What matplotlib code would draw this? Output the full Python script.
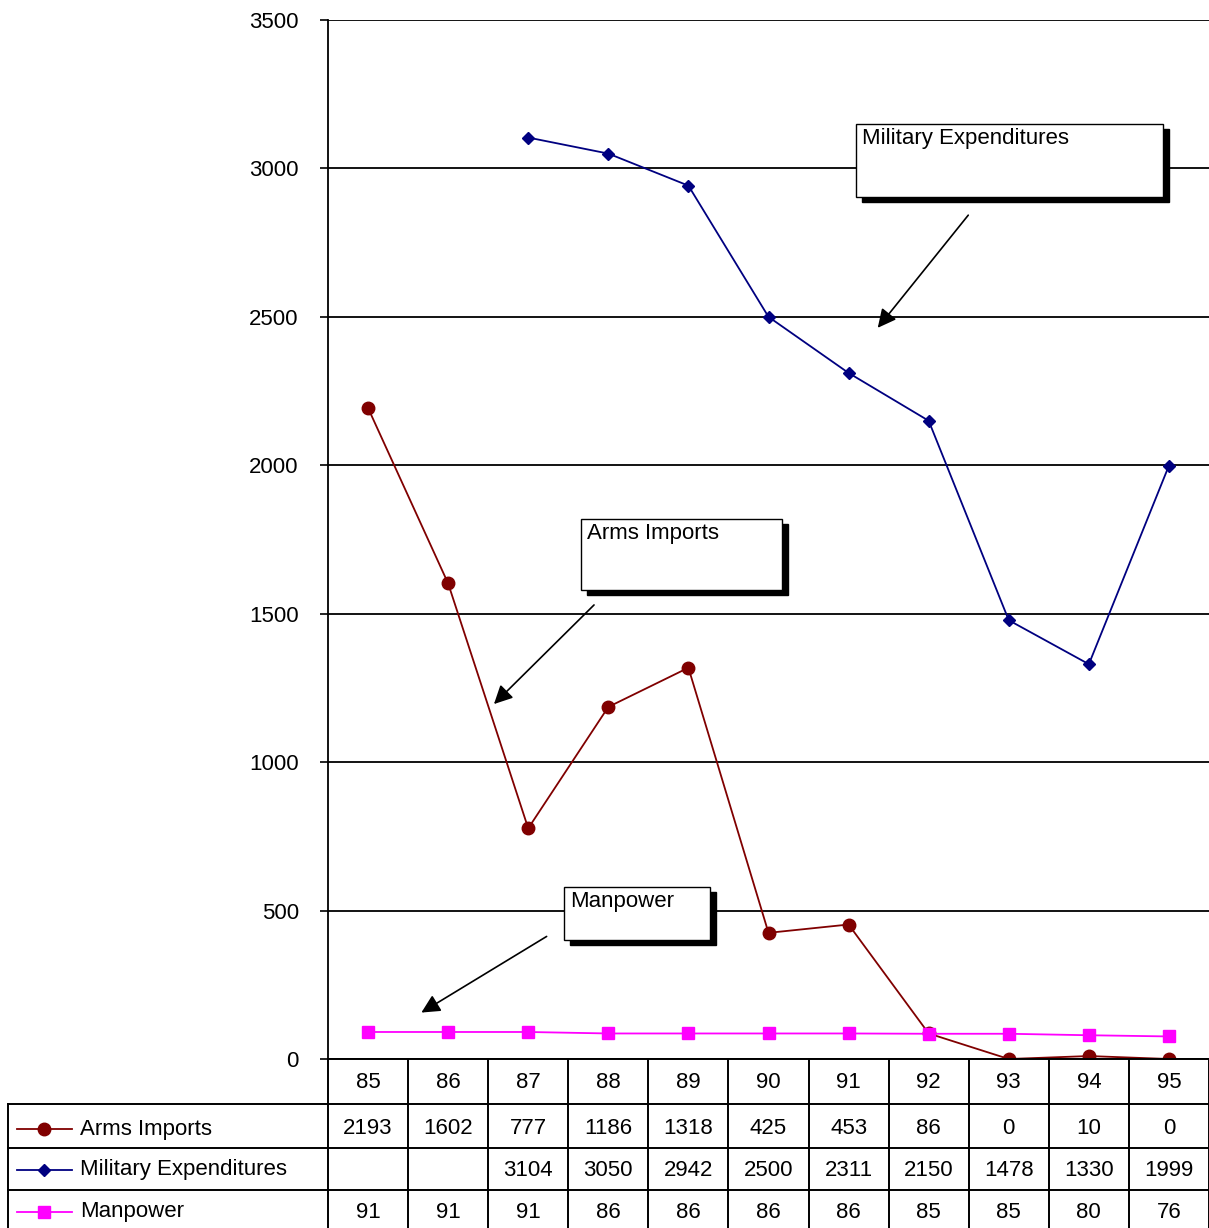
import matplotlib.pyplot as plt
import matplotlib.transforms as mtrans
from matplotlib.lines import Line2D
from matplotlib.patches import Rectangle
import numpy as np

plt.rcParams['font.family'] = ['Liberation Sans', 'DejaVu Sans']

years = ['85', '86', '87', '88', '89', '90', '91', '92', '93', '94', '95']
arms_imports = [2193, 1602, 777, 1186, 1318, 425, 453, 86, 0, 10, 0]
military_exp = [None, None, 3104, 3050, 2942, 2500, 2311, 2150, 1478, 1330, 1999]
manpower = [91, 91, 91, 86, 86, 86, 86, 85, 85, 80, 76]

series = [
    ('Arms Imports', arms_imports, '#800000', 'o', 9),
    ('Military Expenditures', military_exp, '#000080', 'D', 6.5),
    ('Manpower', manpower, '#FF00FF', 's', 8),
]

W, H = 1209, 1228
fig = plt.figure(figsize=(W / 100, H / 100), dpi=100)
FS = 16


def fx(x):
    return x / W


def fy(y):
    return 1 - y / H


ax = fig.add_axes([fx(328), fy(1059), fx(1209) - fx(328), fy(20) - fy(1059)])

x = np.arange(len(years))
for name, vals, col, mk, ms in series:
    v = np.array([np.nan if a is None else a for a in vals], dtype=float)
    ax.plot(x, v, color=col, lw=1.3, marker=mk, ms=ms, mfc=col, mec=col, zorder=3)

ax.set_xlim(-0.5, len(years) - 0.5)
ax.set_ylim(0, 3500)
ax.set_yticks(range(0, 3501, 500))
ax.yaxis.grid(True, color='black', lw=1.3)
ax.set_axisbelow(True)
ax.set_xticks([])
ax.tick_params(axis='y', length=6, width=1.2, pad=15, labelsize=FS)
for s in ['top', 'right', 'bottom']:
    ax.spines[s].set_visible(False)
ax.spines['left'].set_linewidth(1.3)

# data table below the plot
tr = mtrans.blended_transform_factory(ax.transData, fig.transFigure)
row_y = [1059, 1104, 1148, 1190, 1235]
lw = 1.4
for b in np.arange(len(years) + 1) - 0.5:
    fig.add_artist(Line2D([b, b], [fy(1059), fy(1235)], transform=tr, color='black', lw=lw))
fig.add_artist(Line2D([fx(328), fx(1209)], [fy(1059), fy(1059)], color='black', lw=lw))
for yy in row_y[1:]:
    fig.add_artist(Line2D([fx(8), fx(1209)], [fy(yy), fy(yy)], color='black', lw=lw))
fig.add_artist(Line2D([fx(8), fx(8)], [fy(1104), fy(1235)], color='black', lw=lw))

for i, yr in enumerate(years):
    fig.text(i, fy(1082), yr, transform=tr, ha='center', va='center', fontsize=FS)

row_c = [1129, 1170, 1212]
for r, (name, vals, col, mk, ms) in enumerate(series):
    yc = fy(row_c[r])
    fig.add_artist(Line2D([fx(17), fx(72)], [yc, yc], color=col, lw=1.3))
    fig.add_artist(Line2D([fx(44)], [yc], color=col, marker=mk, ms=ms, mfc=col, mec=col))
    fig.text(fx(80), yc, name, ha='left', va='center', fontsize=FS)
    for i, v in enumerate(vals):
        if v is not None:
            fig.text(i, yc, str(v), transform=tr, ha='center', va='center', fontsize=FS)

# callout boxes with shadows and arrows
callouts = [
    ('Military Expenditures', (856, 124, 1163, 197), (970, 213), (876, 330)),
    ('Arms Imports', (581, 519, 782, 590), (596, 603), (492, 706)),
    ('Manpower', (564, 887, 710, 940), (549, 935), (419, 1014)),
]
for text, (x0, y0, x1, y1), start, end in callouts:
    fig.add_artist(Rectangle((fx(x0 + 6), fy(y1 + 5)), fx(x1 - x0), fy(y0) - fy(y1),
                             transform=fig.transFigure, fc='black', ec='black', zorder=5))
    fig.add_artist(Rectangle((fx(x0), fy(y1)), fx(x1 - x0), fy(y0) - fy(y1),
                             transform=fig.transFigure, fc='white', ec='black', lw=1.0, zorder=6))
    fig.text(fx(x0 + 6), fy(y0 + 4), text, ha='left', va='top', fontsize=FS, zorder=7)
    ax.annotate('', xy=(fx(end[0]), fy(end[1])), xycoords='figure fraction',
                xytext=(fx(start[0]), fy(start[1])), textcoords='figure fraction',
                arrowprops=dict(arrowstyle='-|>', mutation_scale=28, color='black', lw=1.2))

fig.savefig('out.png', dpi=100)
